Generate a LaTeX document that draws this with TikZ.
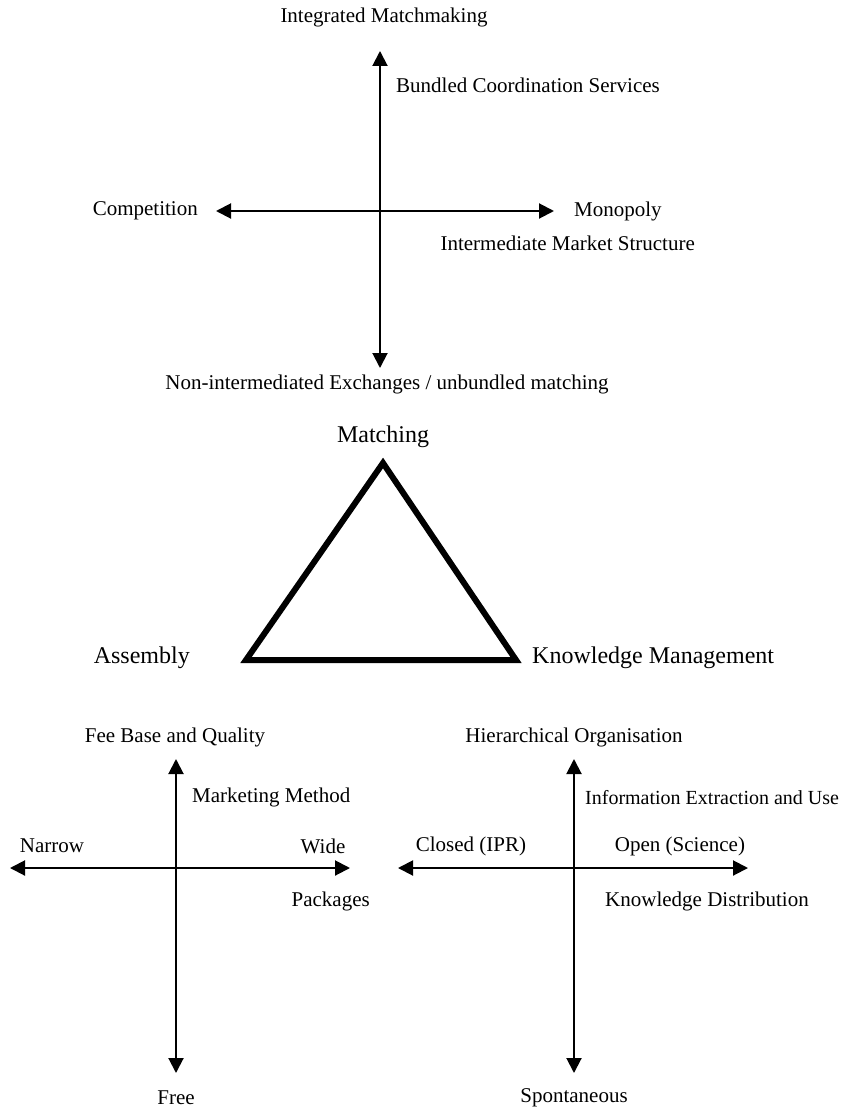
\documentclass[tikz,border=0pt]{standalone}
\usepackage{fontspec}
\setmainfont{Liberation Serif}
\usetikzlibrary{arrows.meta}
\begin{document}
\begin{tikzpicture}[x=1pt,y=-1pt,
  lbl/.style={font=\fontsize{21}{24}\selectfont, inner sep=0pt},
  lblsmall/.style={font=\fontsize{20}{24}\selectfont, inner sep=0pt},
  big/.style={font=\fontsize{24}{28}\selectfont, inner sep=0pt},
  axis/.style={line width=2pt, {Triangle[length=15pt,width=15pt]}-{Triangle[length=15pt,width=15pt]}},
  tri/.style={line width=6pt, line join=miter}]
\useasboundingbox (0,0) rectangle (843,1113);
% ---------- top cross ----------
\coordinate (tN) at (380,51);
\coordinate (tS) at (380,368);
\coordinate (tW) at (216,211);
\coordinate (tE) at (554,211);
\draw[axis] (tS) -- (tN);
\draw[axis] (tW) -- (tE);
\node[lbl] (im) at (384,17) {Integrated Matchmaking};
\node[lbl, anchor=west] (bcs) at (396,85) {Bundled Coordination Services};
\node[lbl, anchor=east] (comp) at (198,211) {Competition};
\node[lbl, anchor=west] (mono) at (574,211) {Monopoly};
\node[lbl, anchor=east] (ims) at (695,243) {Intermediate Market Structure};
\node[lbl] (nie) at (387,384) {Non-intermediated Exchanges / unbundled matching};
% ---------- triangle ----------
\node[big] (match) at (383,437) {Matching};
\coordinate (tA) at (383,463);
\coordinate (tB) at (246,660);
\coordinate (tC) at (516,660);
\draw[tri] (tA) -- (tB) -- (tC) -- cycle;
\node[big, anchor=east] (asm) at (190,658) {Assembly};
\node[big, anchor=west] (km) at (532,658) {Knowledge Management};
% ---------- bottom-left cross ----------
\coordinate (lN) at (176,759);
\coordinate (lS) at (176,1073);
\coordinate (lW) at (10,868);
\coordinate (lE) at (350,868);
\draw[axis] (lS) -- (lN);
\draw[axis] (lW) -- (lE);
\node[lbl] (fee) at (175,737) {Fee Base and Quality};
\node[lbl, anchor=west] (mm) at (192,797) {Marketing Method};
\node[lbl] (nar) at (52,846) {Narrow};
\node[lbl] (wide) at (323,846) {Wide};
\node[lbl, anchor=east] (pack) at (370,901) {Packages};
\node[lbl] (free) at (176,1098) {Free};
% ---------- bottom-right cross ----------
\coordinate (rN) at (574,759);
\coordinate (rS) at (574,1073);
\coordinate (rW) at (398,868);
\coordinate (rE) at (748,868);
\draw[axis] (rS) -- (rN);
\draw[axis] (rW) -- (rE);
\node[lbl] (hier) at (574,737) {Hierarchical Organisation};
\node[lblsmall, anchor=west] (iex) at (585,798) {Information Extraction and Use};
\node[lbl] (closed) at (471,846) {Closed (IPR)};
\node[lbl] (open) at (680,846) {Open (Science)};
\node[lbl] (kd) at (707,901) {Knowledge Distribution};
\node[lbl] (spon) at (574,1098) {Spontaneous};
\end{tikzpicture}
\end{document}
